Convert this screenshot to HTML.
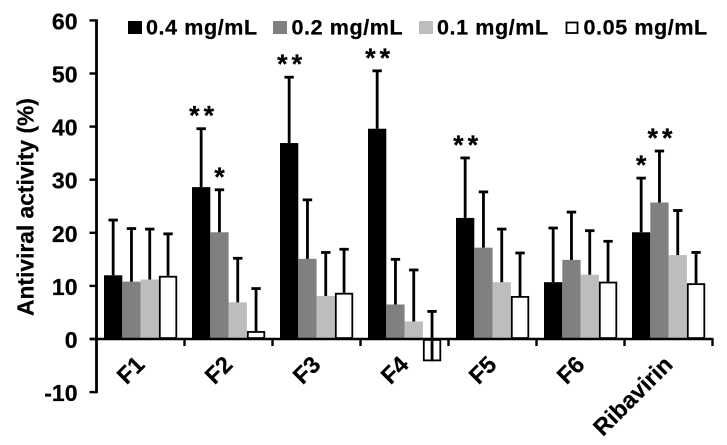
<!DOCTYPE html>
<html>
<head>
<meta charset="utf-8">
<style>
html,body{margin:0;padding:0;background:#fff;}
svg{display:block;filter:blur(0.35px);}
text{font-family:"Liberation Sans",sans-serif;font-weight:bold;fill:#000;stroke:#000;stroke-width:0.25px;}
</style>
</head>
<body>
<svg id="chart" width="727" height="445" viewBox="0 0 727 445" xmlns="http://www.w3.org/2000/svg">
  <g>
    <g>
      <rect x="128" y="21" width="14" height="13" fill="#000"/>
      <text x="146" y="34.5" font-size="21.5" letter-spacing="0.6">0.4 mg/mL</text>
    </g>
    <g>
      <rect x="273" y="21" width="14" height="13" fill="#808080"/>
      <text x="291.5" y="34.5" font-size="21.5" letter-spacing="0.6">0.2 mg/mL</text>
    </g>
    <g>
      <rect x="419" y="21" width="14" height="13" fill="#bdbdbd"/>
      <text x="437" y="34.5" font-size="21.5" letter-spacing="0.6">0.1 mg/mL</text>
    </g>
    <g>
      <rect x="566.5" y="22.5" width="11" height="10.5" fill="#fff" stroke="#000" stroke-width="1.8"/>
      <text x="583.5" y="34.5" font-size="21.5" letter-spacing="0.6">0.05 mg/mL</text>
    </g>
  </g>
  <text transform="translate(33.5,316) rotate(-90)" font-size="22.8">Antiviral activity (%)</text>
</svg>
<script>
const categories = ['F1', 'F2', 'F3', 'F4', 'F5', 'F6', 'Ribavirin'];
const seriesNames = ['0.4 mg/mL', '0.2 mg/mL', '0.1 mg/mL', '0.05 mg/mL'];
const values04 = [12.0, 28.6, 36.9, 39.6, 22.8, 10.7, 20.1];
const values02 = [10.8, 20.1, 15.1, 6.5, 17.2, 14.9, 25.7];
const values01 = [11.2, 6.9, 8.1, 3.3, 10.7, 12.1, 15.8];
const values005 = [11.9, 1.5, 8.7, -4.2, 8.1, 10.8, 10.5];
const errors04 = [10.4, 11.0, 12.4, 10.9, 11.3, 10.2, 10.2];
const errors02 = [10.0, 8.0, 11.1, 8.5, 10.5, 9.0, 9.7];
const errors01 = [9.5, 8.3, 8.2, 9.7, 10.0, 8.3, 8.4];
const errors005 = [7.9, 8.0, 8.2, 9.4, 8.1, 7.6, 5.8];
const significance04 = ['', '**', '**', '**', '**', '', '*'];
const significance02 = ['', '*', '', '', '', '', '**'];
const yTicks = [-10, 0, 10, 20, 30, 40, 50, 60];

const values = [values04, values02, values01, values005];
const errors = [errors04, errors02, errors01, errors005];
const significance = [significance04, significance02];
const fills = ['#000', '#808080', '#bdbdbd', '#fff'];

const svg = document.getElementById('chart');
const NS = 'http://www.w3.org/2000/svg';
const y0 = 339, unit = 5.31, x0 = 96.5, catW = 88, barW = 18.3, pad = 7.5;
function y(v) { return y0 - v * unit; }
function catX(i) { return x0 + i * catW; }
function barX(i, s) { return catX(i) + pad + s * barW; }

function make(tag, attrs, parent) {
  const el = document.createElementNS(NS, tag);
  for (const k in attrs) el.setAttribute(k, attrs[k]);
  (parent || svg).appendChild(el);
  return el;
}

const barsLayer = make('g', {});


const errorLayer = make('g', {});


const axisLayer = make('g', {});



categories.forEach((cat, i) => {
  seriesNames.forEach((name, s) => {
    const v = values[s][i];
    const e = errors[s][i];
    const cx = barX(i, s) + barW / 2;
    const white = s === 3;
    const inset = white ? 0.9 : 0;
    const top = Math.min(y(v), y(0)) + inset;
    const bottom = Math.max(y(v), y(0)) - inset;
    const bar = make('rect', {
      x: barX(i, s) + inset,
      y: top,
      width: barW - inset * 2,
      height: Math.max(0, bottom - top),
      fill: fills[s],
      stroke: white ? '#000' : 'none',
      'stroke-width': white ? 1.8 : 0
    }, barsLayer);
    
    

    const stem = make('line', { x1: cx, x2: cx, y1: y(v), y2: y(v + e), stroke: '#000', 'stroke-width': 2.8 }, errorLayer);
    
    
    const cap = make('line', { x1: cx - 4.7, x2: cx + 4.7, y1: y(v + e), y2: y(v + e), stroke: '#000', 'stroke-width': 2.8 }, errorLayer);
    
    
  });
  significance.forEach((row, s) => {
    const mark = row[i];
    if (!mark) return;
    const cx = barX(i, s) + barW / 2 + (mark.length === 2 ? 2.5 : 0);
    const star = make('text', {
      x: cx,
      y: y(values[s][i] + errors[s][i]) - 4,
      'text-anchor': 'middle',
      'font-size': 27,
      'letter-spacing': mark.length === 2 ? 4 : 0
    });
    
    
    star.textContent = mark;
  });
});

const yLine = make('line', { x1: x0, x2: x0, y1: y(60) - 1.2, y2: y(-10) + 1.2, stroke: '#000', 'stroke-width': 2.8 }, axisLayer);


const xLine = make('line', { x1: x0 - 7, x2: catX(categories.length) + 1, y1: y0, y2: y0, stroke: '#000', 'stroke-width': 2.6 }, axisLayer);



yTicks.forEach((t) => {
  const tick = make('line', { x1: x0 - 7, x2: x0, y1: y(t), y2: y(t), stroke: '#000', 'stroke-width': 2.4 }, axisLayer);
  
  
  const label = make('text', { x: 77.5, y: y(t) + 9, 'text-anchor': 'end', 'font-size': 23 }, axisLayer);
  
  
  label.textContent = t;
});

categories.forEach((cat, i) => {
  const tx = catX(i + 1);
  const tick = make('line', { x1: tx, x2: tx, y1: y0, y2: y0 + 7, stroke: '#000', 'stroke-width': 2.4 }, axisLayer);
  
  
  const lx = catX(i) + catW / 2 + 5.5;
  const label = make('text', {
    transform: 'translate(' + lx + ',366) rotate(-45)',
    'text-anchor': 'end',
    'font-size': 23.5
  }, axisLayer);
  
  
  label.textContent = cat;
});
</script>
</body>
</html>
